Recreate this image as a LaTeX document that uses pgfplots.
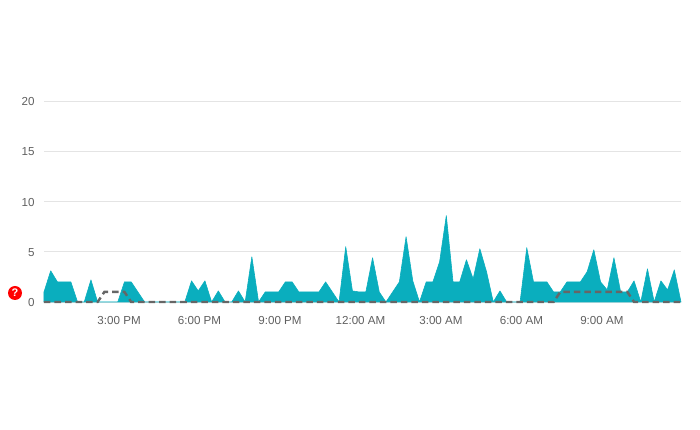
\documentclass[border=0pt]{standalone}
\usepackage{fontspec}
\setmainfont{Liberation Sans}
\usepackage{pgfplots}
\pgfplotsset{compat=1.18}
\definecolor{areac}{HTML}{0AAEBE}
\definecolor{gridc}{HTML}{E4E4E4}
\definecolor{dashc}{HTML}{666666}
\definecolor{labc}{HTML}{5F5F5F}
\begin{document}
\begin{tikzpicture}[x=1pt,y=1pt]
\path[use as bounding box] (0,0) rectangle (700,430);
\begin{axis}[
  at={(44pt,128pt)}, anchor=origin,
  scale only axis, width=637pt, height=201pt,
  xmin=0, xmax=95, ymin=0, ymax=20,
  clip=false,
  axis line style={draw=none},
  major tick style={draw=none},
  ytick={5,10,15,20},
  extra y ticks={0},
  extra y tick style={grid=none, major tick style={draw=none}},
  xtick={11.2,23.2,35.2,47.2,59.2,71.2,83.2},
  xticklabels={3:00 PM,6:00 PM,9:00 PM,12:00 AM,3:00 AM,6:00 AM,9:00 AM},
  ymajorgrids, grid style={gridc, line width=0.8pt},
  tick label style={font=\fontsize{11.6}{14}\selectfont, text=labc},
  /pgf/number format/assume math mode=true,
  yticklabel style={xshift=-6pt, yshift=-0.7pt},
  xticklabel style={yshift=-10.5pt},
]
\addplot[draw=gridc, line width=0.8pt, sharp plot] coordinates {(0,0)(95,0)};
\addplot[draw=areac, fill=areac, line width=0.6pt, line join=round, sharp plot] coordinates {
(0,1)(1,3.1)(2,2)(3,2)(4,2)(5,0)(6,0)(7,2.2)(8,0)(9,0)(10,0)(11,0)
(12,2)(13,2)(14,1)(15,0)(16,0)(17,0)(18,0)(19,0)(20,0)(21,0)(22,2.1)(23,1.1)
(24,2.1)(25,0)(26,1.1)(27,0)(28,0)(29,1.1)(30,0)(31,4.5)(32,0)(33,1)(34,1)(35,1)
(36,2)(37,2)(38,1)(39,1)(40,1)(41,1)(42,2)(43,1)(44,0)(45,5.5)(46,1.1)(47,1)
(48,1)(49,4.4)(50,1)(51,0)(52,1)(53,2)(54,6.5)(55,2.1)(56,0)(57,2)(58,2)(59,4)
(60,8.6)(61,2)(62,2)(63,4.2)(64,2.3)(65,5.3)(66,3)(67,0)(68,1.1)(69,0)(70,0)(71,0)
(72,5.4)(73,2)(74,2)(75,2)(76,1)(77,1)(78,2)(79,2)(80,2)(81,3)(82,5.2)(83,2)
(84,1.2)(85,4.4)(86,1)(87,1)(88,2.1)(89,0)(90,3.3)(91,0)(92,2.1)(93,1.2)(94,3.2)(95,0)
} \closedcycle;
\addplot[draw=dashc, line width=2.4pt, dash pattern=on 6.5pt off 4pt, sharp plot] coordinates {
(0,0)(8,0)(9,1)(12,1)(13,0)(76,0)(77,1)(87,1)(88,0)(95,0)
};
\end{axis}
\node[circle, fill=red, inner sep=0pt, minimum size=14pt, text=white, font=\fontsize{11}{11}\selectfont\bfseries] at (15,137) {?};
\end{tikzpicture}
\end{document}
